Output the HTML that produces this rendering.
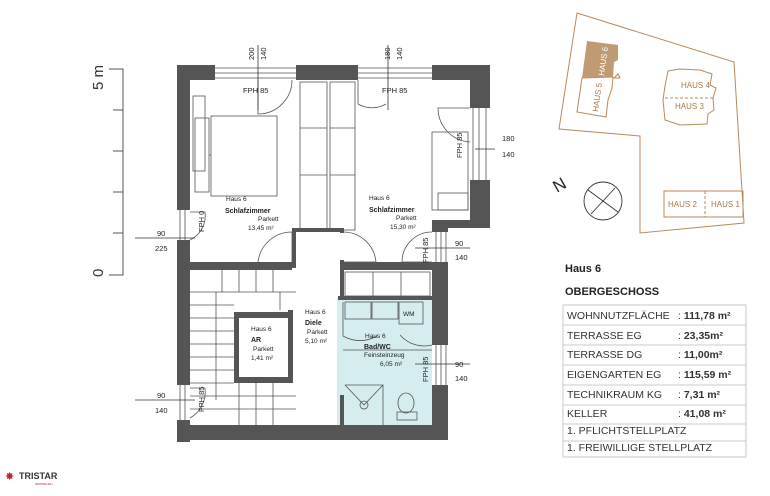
<!DOCTYPE html>
<html><head><meta charset="utf-8"><style>
body{margin:0;background:#fff;width:770px;height:496px;overflow:hidden}
svg{display:block}
text{font-family:"Liberation Sans",sans-serif}
</style></head><body>
<svg width="770" height="496" viewBox="0 0 770 496" xmlns="http://www.w3.org/2000/svg">
<!-- scale bar -->
<g stroke="#555" stroke-width="1" fill="none">
<path d="M109 69H123V275H109"/>
<path d="M113 110H123M113 151H123M113 192H123M113 233H123"/>
</g>
<text transform="translate(103,90) rotate(-90)" font-size="15" fill="#333">5 m</text>
<text transform="translate(103,277) rotate(-90)" font-size="15" fill="#333">0</text>

<!-- floor plan -->
<rect x="337" y="298" width="95" height="127" fill="#d5edef"/>
<g fill="#555">
<rect x="177" y="65" width="13" height="145"/>
<rect x="177" y="240" width="13" height="145"/>
<rect x="177" y="420" width="13" height="22"/>
<rect x="177" y="425" width="271" height="15"/>
<rect x="177" y="65" width="38" height="15"/>
<rect x="296" y="65" width="62" height="15"/>
<rect x="432" y="65" width="58" height="15"/>
<rect x="470" y="65" width="20" height="43"/>
<rect x="470" y="180" width="20" height="48"/>
<rect x="432" y="220" width="58" height="8"/>
<rect x="432" y="220" width="16" height="12"/>
<rect x="432" y="262" width="16" height="83"/>
<rect x="432" y="385" width="16" height="55"/>
<rect x="190" y="262" width="102" height="8"/>
<rect x="292" y="228" width="4" height="34"/>
<rect x="292" y="228" width="48" height="4"/>
<rect x="340" y="228" width="4" height="5"/>
<rect x="340" y="260" width="4" height="38"/>
<rect x="340" y="262" width="92" height="8"/>
<rect x="338" y="296" width="94" height="4"/>
<rect x="292" y="262" width="4" height="6"/>
<rect x="288" y="310" width="5" height="72"/>
<rect x="234" y="312" width="59" height="6"/>
<rect x="234" y="312" width="5" height="70"/>
<rect x="234" y="377" width="59" height="6"/>
<rect x="340" y="395" width="4" height="30"/>
</g>
<g fill="none" stroke="#555" stroke-width="0.8">
<!-- windows -->
<path d="M215 68H296M215 73H296M215 78H296M358 68H432M358 73H432M358 78H432"/>
<path d="M473 108V180M479 108V180M486 108V180"/>
<path d="M180 210V240M185 210V240M180 385V420M185 385V420"/>
<path d="M436 232V262M441 232V262M446 232V262M436 345V385M441 345V385M446 345V385"/>
<!-- door arcs -->
<path d="M258 80V114A34 34 0 0 0 292 80"/>
<path d="M358 80V104A28 28 0 0 0 386 104"/>
<path d="M470 108H438A34 34 0 0 0 470 142"/>
<path d="M190 212H205A27 27 0 0 1 190 240"/>
<path d="M190 388H205A30 30 0 0 1 190 418"/>
<path d="M258 262A34 34 0 0 1 292 232V262"/>
<path d="M344 232A33 33 0 0 1 376 262H344"/>
<path d="M432 232A30 30 0 0 0 402 262H432"/>
<path d="M343 302V336A34 34 0 0 0 377 336"/>
<path d="M432 345A32 32 0 0 1 400 335"/>
<!-- wardrobes -->
<rect x="300" y="82" width="27" height="148"/>
<rect x="330" y="82" width="25" height="148"/>
<path d="M300 128H327M300 175H327M330 128H355M330 175H355"/>
<rect x="345" y="272" width="85" height="24"/>
<path d="M373 272V296M401 272V296"/>
<!-- bed 1 -->
<rect x="193" y="96" width="12" height="75"/>
<rect x="195" y="118" width="14" height="74"/>
<rect x="211" y="116" width="66" height="80"/>
<path d="M209 155H211"/>
<!-- bed 2 -->
<rect x="432" y="132" width="36" height="78"/>
<rect x="438" y="193" width="30" height="17"/>
<!-- stairs -->
<path d="M190 292H296M190 305H234M190 318H234M190 331H234M190 344H234M190 357H234M190 370H234M190 383H234M190 396H296M190 409H296"/>
<path d="M222 270V292M239 270V292M256 270V292M273 270V292M239 383V425M256 383V425M273 383V425M280 292V310"/>
<path d="M216 292V400"/>
<!-- bath fixtures -->
<rect x="345" y="302" width="26" height="17"/>
<rect x="372" y="302" width="26" height="17"/>
<rect x="399" y="302" width="24" height="22"/>
<path d="M345 385H383V425M345 385L364 405L383 385"/>
<circle cx="364" cy="405" r="4"/>
<ellipse cx="406" cy="403" rx="8" ry="10"/>
<rect x="397" y="412" width="20" height="8"/>
<path d="M343 350H432"/>
</g>
<!-- dims -->
<g stroke="#333" stroke-width="0.8">
<path d="M258 45V110M388 45V110M475 149H495M415 248H470M415 364H470M135 238H195M135 400H195"/>
</g>
<g font-size="7.5" fill="#222">
<text transform="translate(254,60) rotate(-90)">200</text>
<text transform="translate(266,60) rotate(-90)">140</text>
<text transform="translate(390,60) rotate(-90)">180</text>
<text transform="translate(402,60) rotate(-90)">140</text>
<text x="502" y="141">180</text><text x="502" y="157">140</text>
<text x="455" y="246">90</text><text x="455" y="260">140</text>
<text x="455" y="367">90</text><text x="455" y="381">140</text>
<text x="157" y="236">90</text><text x="155" y="251">225</text>
<text x="157" y="398">90</text><text x="155" y="413">140</text>
<text x="243" y="93">FPH 85</text>
<text x="382" y="93">FPH 85</text>
<text transform="translate(462,158) rotate(-90)">FPH 85</text>
<text transform="translate(204,232) rotate(-90)">FPH 0</text>
<text transform="translate(204,412) rotate(-90)">FPH 85</text>
<text transform="translate(428,263) rotate(-90)">FPH 85</text>
<text transform="translate(428,382) rotate(-90)">FPH 85</text>
</g>
<g font-size="6.5" fill="#222">
<text x="226" y="201">Haus 6</text>
<text x="225" y="213" font-weight="bold" font-size="7">Schlafzimmer</text>
<text x="258" y="221">Parkett</text>
<text x="248" y="230">13,45 m²</text>
<text x="369" y="200">Haus 6</text>
<text x="369" y="212" font-weight="bold" font-size="7">Schlafzimmer</text>
<text x="396" y="220">Parkett</text>
<text x="390" y="229">15,30 m²</text>
<text x="305" y="314">Haus 6</text>
<text x="305" y="325" font-weight="bold" font-size="7">Diele</text>
<text x="307" y="334">Parkett</text>
<text x="305" y="343">5,10 m²</text>
<text x="251" y="331">Haus 6</text>
<text x="251" y="342" font-weight="bold" font-size="7">AR</text>
<text x="253" y="351">Parkett</text>
<text x="251" y="360">1,41 m²</text>
<text x="365" y="338">Haus 6</text>
<text x="364" y="349" font-weight="bold" font-size="7">Bad/WC</text>
<text x="364" y="357">Feinsteinzeug</text>
<text x="380" y="366">6,05 m²</text>
<text x="403" y="316">WM</text>
</g>

<!-- site plan -->
<g fill="none" stroke="#b88a5a" stroke-width="1">
<path d="M577 13L734 62L744 223L640 233L640 136L559 129Z"/>
<path d="M582 78L613 77L612 88L608 100L606 117L577 112Z"/>
<path d="M668 71L680 69L700 70L712 74L710 85L716 88L713 98L714 110L708 114L707 124L680 125L665 120L663 100L665 86Z"/>
<path d="M665 98H713" stroke-dasharray="3 2"/>
<rect x="664" y="191" width="79" height="26"/>
<path d="M705 191V217" stroke-dasharray="3 2"/>
<path d="M614 78L618 74L620 78Z"/>
</g>
<path d="M587 41L618 45L618 60L614 62L613 77L582 78Z" fill="#c09a73"/>
<g font-size="8" fill="#a7784a">
<text transform="translate(604,76) rotate(-82)" fill="#fff">HAUS 6</text>
<text transform="translate(598,112) rotate(-82)">HAUS 5</text>
<text x="681" y="88">HAUS 4</text>
<text x="675" y="109">HAUS 3</text>
<text x="668" y="207">HAUS 2</text>
<text x="711" y="207">HAUS 1</text>
</g>
<text transform="translate(557,193) rotate(-30)" font-size="17" fill="#222">N</text>
<g fill="none" stroke="#333" stroke-width="0.9">
<circle cx="603" cy="201" r="19"/>
<path d="M588 190L618 212M615 188L591 214"/>
</g>

<!-- info -->
<text x="565" y="272" font-size="11" font-weight="bold" fill="#222">Haus 6</text>
<text x="565" y="295" font-size="11" font-weight="bold" fill="#222">OBERGESCHOSS</text>
<g fill="none" stroke="#bbb" stroke-width="0.8">
<rect x="563" y="305" width="183" height="152"/>
<path d="M563 325H746M563 345H746M563 365H746M563 385H746M563 405H746M563 424H746M563 441H746"/>
</g>
<g font-size="10.5" fill="#333">
<text x="567" y="319">WOHNNUTZFLÄCHE</text>
<text x="567" y="339">TERRASSE  EG</text>
<text x="567" y="358">TERRASSE  DG</text>
<text x="567" y="378">EIGENGARTEN  EG</text>
<text x="567" y="398">TECHNIKRAUM  KG</text>
<text x="567" y="417">KELLER</text>
<text x="567" y="434">1. PFLICHTSTELLPLATZ</text>
<text x="567" y="451">1. FREIWILLIGE STELLPLATZ</text>
<g><text x="678" y="319">: <tspan font-weight="bold">111,78 m²</tspan></text>
<text x="678" y="339">: <tspan font-weight="bold">23,35m²</tspan></text>
<text x="678" y="358">: <tspan font-weight="bold">11,00m²</tspan></text>
<text x="678" y="378">: <tspan font-weight="bold">115,59 m²</tspan></text>
<text x="678" y="398">: <tspan font-weight="bold">7,31 m²</tspan></text>
<text x="678" y="417">: <tspan font-weight="bold">41,08 m²</tspan></text></g>
</g>

<!-- logo -->
<text x="5" y="480" font-size="11" fill="#c0282e">✸</text>
<text x="19" y="479" font-size="9" font-weight="bold" fill="#333">TRISTAR</text>
<text x="35" y="485" font-size="3" fill="#c0282e">IMMOBILIEN</text>
</svg>
</body></html>
